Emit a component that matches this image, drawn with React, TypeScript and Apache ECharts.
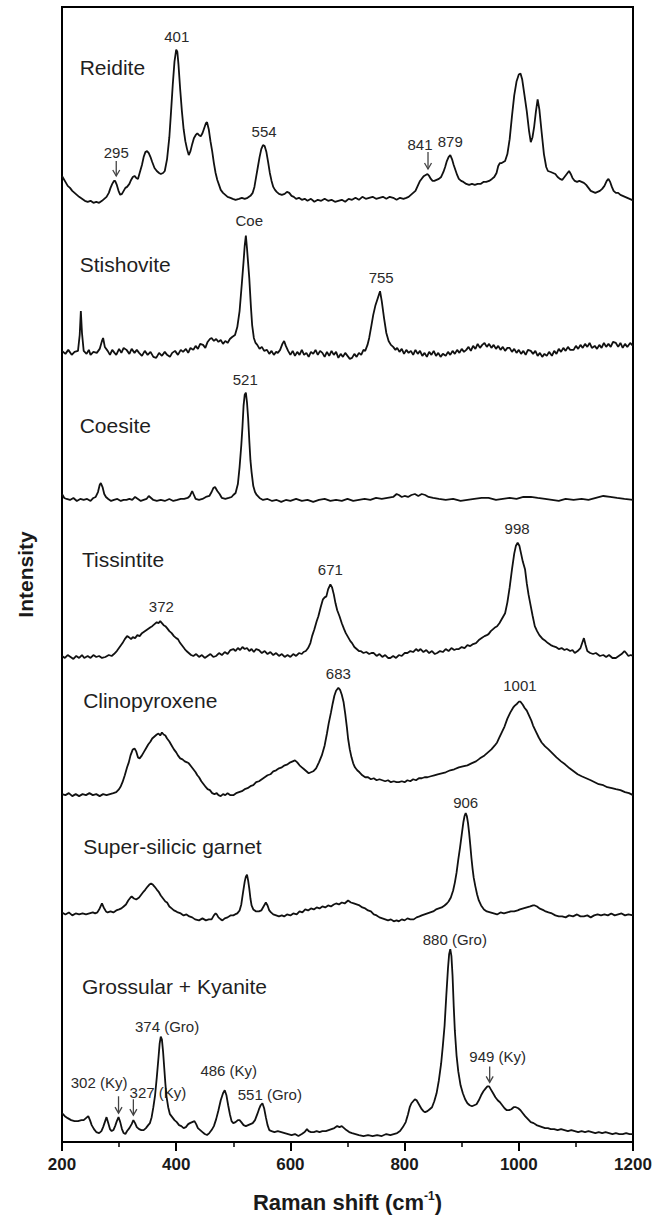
import React, { useEffect, useRef } from "react";
import * as echarts from "echarts";

type Pt = [number, number];

// Raman shift (cm-1) vs. relative intensity above each spectrum's own baseline
const REIDITE: Pt[] = [[200,23],[203,20],[206,17],[210,13],[214,11],[218,8],[222,6],[226,4],[230,2],[235,0],[240,-2],[245,-3],[250,-2],[255,-4],[260,-3],[265,-4],[270,-2],[274,0],[278,2],[282,6],[285,11],[288,15],[291,18],[293,18],[296,14],[299,8],[302,4],[305,5],[308,8],[311,11],[314,12],[318,15],[321,19],[324,22],[327,23],[330,21],[333,20],[336,26],[340,34],[343,42],[346,47],[349,48],[352,46],[355,42],[358,37],[362,31],[366,28],[370,26],[373,25],[377,26],[380,28],[384,40],[388,62],[391,88],[394,115],[397,138],[400,150],[402,148],[404,135],[407,110],[410,88],[413,70],[416,58],[419,50],[422,44],[425,48],[428,55],[431,61],[434,64],[437,66],[440,64],[443,63],[446,66],[449,71],[452,76],[454,77],[457,70],[460,58],[463,48],[466,36],[469,26],[472,19],[475,14],[478,9],[482,6],[486,4],[490,2],[495,1],[499,0],[504,-1],[510,0],[515,1],[520,0],[525,1],[530,3],[534,6],[537,12],[540,22],[543,32],[546,42],[549,50],[552,54],[555,53],[558,47],[561,37],[564,26],[567,18],[570,12],[573,9],[576,7],[580,5],[585,4],[590,5],[594,7],[598,6],[602,3],[606,2],[610,0],[615,1],[620,-1],[625,0],[630,-2],[636,0],[642,-3],[648,-1],[654,-2],[660,0],[666,-2],[672,-1],[678,-3],[684,-2],[690,-1],[696,-3],[702,0],[708,-1],[714,1],[720,-1],[726,2],[732,0],[738,1],[744,2],[750,0],[756,1],[762,2],[768,0],[774,2],[780,1],[786,-1],[792,1],[798,0],[803,1],[807,2],[811,4],[815,6],[819,8],[823,13],[827,18],[831,21],[834,23],[837,24],[840,25],[843,23],[846,20],[849,18],[852,18],[856,19],[860,20],[864,22],[868,27],[871,32],[874,38],[877,42],[880,44],[883,40],[886,34],[889,29],[892,24],[895,20],[899,18],[903,17],[908,15],[913,14],[918,15],[923,14],[928,15],[933,15],[938,17],[943,17],[948,18],[953,20],[957,22],[961,26],[964,33],[967,36],[970,36],[973,37],[976,38],[980,45],[984,60],[988,83],[992,104],[996,118],[1000,125],[1003,126],[1006,120],[1010,104],[1014,88],[1018,68],[1021,57],[1024,62],[1027,73],[1030,88],[1033,100],[1036,90],[1040,67],[1044,45],[1048,32],[1051,28],[1056,27],[1060,26],[1064,25],[1068,22],[1072,20],[1076,19],[1080,22],[1084,25],[1088,28],[1091,25],[1094,21],[1098,18],[1102,17],[1106,18],[1110,17],[1114,16],[1118,14],[1122,11],[1126,8],[1130,7],[1134,6],[1138,7],[1142,8],[1146,10],[1150,13],[1154,18],[1157,20],[1160,17],[1163,12],[1166,8],[1170,6],[1174,6],[1178,4],[1182,3],[1186,2],[1190,1],[1194,0],[1198,-1],[1200,-2]];

const STISHOVITE: Pt[] = [[200,2],[206,-1],[211,3],[217,-2],[222,1],[228,2],[231,18],[233,42],[235,20],[238,2],[243,-1],[247,3],[250,-2],[255,1],[261,0],[266,4],[270,12],[272,15],[275,6],[280,2],[284,-2],[288,3],[292,0],[295,-2],[300,4],[304,0],[308,5],[313,3],[318,-1],[322,4],[327,0],[331,3],[335,0],[340,-3],[345,2],[350,-2],[355,1],[360,-4],[365,-5],[370,0],[375,-3],[380,1],[384,-2],[389,-4],[393,0],[398,2],[403,-2],[408,3],[412,1],[417,4],[421,0],[425,5],[430,3],[434,7],[438,4],[442,9],[447,8],[451,5],[455,11],[459,14],[462,15],[466,12],[470,14],[474,11],[478,13],[482,9],[486,12],[490,10],[494,14],[498,16],[503,18],[507,26],[511,42],[515,70],[518,92],[520,108],[522,118],[524,105],[526,90],[528,75],[531,45],[533,28],[536,15],[539,10],[542,8],[546,4],[550,6],[554,2],[559,3],[563,-1],[567,2],[571,-2],[575,1],[578,0],[582,3],[586,9],[589,12],[592,7],[596,2],[600,-2],[604,2],[608,-3],[612,1],[616,-2],[620,3],[624,-2],[628,0],[632,-4],[636,1],[640,-1],[644,3],[648,-2],[652,2],[656,0],[660,-4],[664,1],[668,-3],[672,2],[676,-2],[680,1],[684,-5],[688,-1],[692,-4],[696,0],[700,-3],[704,-6],[708,-5],[712,-1],[716,-4],[720,0],[724,-2],[728,3],[731,2],[735,8],[738,15],[742,28],[745,38],[749,48],[753,55],[757,62],[760,52],[764,35],[768,20],[772,12],[776,8],[780,6],[784,3],[787,5],[791,1],[795,4],[799,-1],[803,3],[807,0],[811,2],[815,-2],[819,3],[823,-1],[827,2],[831,-3],[835,0],[839,-4],[843,1],[847,-2],[851,2],[855,-3],[859,0],[863,-4],[867,-1],[872,-3],[876,1],[880,-2],[884,2],[888,-1],[892,3],[896,0],[900,4],[904,1],[908,3],[912,6],[916,2],[920,7],[924,4],[928,9],[932,5],[936,8],[940,10],[944,6],[948,9],[952,5],[956,8],[960,4],[964,7],[968,3],[972,6],[976,2],[980,5],[984,5],[988,1],[992,4],[996,0],[1000,3],[1004,-1],[1008,2],[1012,-2],[1016,3],[1021,2],[1025,-1],[1029,2],[1033,-3],[1037,0],[1041,-4],[1045,-1],[1049,-3],[1053,1],[1058,-3],[1062,2],[1066,-1],[1070,4],[1074,1],[1078,5],[1082,2],[1086,6],[1090,3],[1096,3],[1100,7],[1104,4],[1108,8],[1112,5],[1116,9],[1120,6],[1124,10],[1128,5],[1133,7],[1137,4],[1141,8],[1145,5],[1149,10],[1153,6],[1157,9],[1161,6],[1165,11],[1170,10],[1174,6],[1178,10],[1182,5],[1186,9],[1190,6],[1195,10],[1200,7]];

const COESITE: Pt[] = [[200,6],[204,2],[208,1],[214,0],[220,2],[226,-1],[232,1],[238,0],[244,1],[250,-1],[255,2],[259,3],[263,8],[266,15],[268,17],[271,13],[274,6],[277,3],[281,1],[286,-1],[291,0],[297,1],[303,-1],[308,0],[313,0],[318,1],[323,0],[328,3],[333,1],[338,-1],[343,0],[348,1],[352,4],[356,2],[360,0],[366,-1],[373,0],[380,-1],[388,1],[395,-1],[402,0],[408,1],[414,1],[420,2],[424,4],[428,9],[431,5],[434,1],[440,0],[446,1],[452,3],[458,4],[462,8],[465,12],[468,13],[472,9],[476,6],[480,2],[486,1],[492,2],[497,3],[500,5],[504,7],[508,16],[511,33],[514,55],[516,73],[518,95],[520,106],[522,108],[524,98],[526,82],[528,60],[530,40],[532,28],[535,14],[538,8],[541,5],[546,2],[552,0],[560,1],[568,-1],[576,0],[584,-2],[592,0],[600,-1],[610,1],[620,-1],[630,0],[640,-2],[650,0],[660,1],[670,-1],[680,0],[690,-1],[700,1],[710,-1],[720,0],[730,1],[740,0],[750,2],[760,1],[770,2],[780,3],[786,6],[790,5],[795,3],[800,4],[806,3],[812,5],[818,6],[824,4],[830,6],[836,5],[842,3],[850,2],[860,1],[872,0],[885,1],[898,-1],[910,0],[922,1],[935,2],[947,2],[960,0],[972,1],[984,2],[996,1],[1008,3],[1021,3],[1033,2],[1046,1],[1058,0],[1070,-1],[1082,1],[1096,0],[1110,1],[1122,0],[1135,2],[1148,4],[1160,3],[1172,2],[1185,1],[1200,0]];

const TISSINTITE: Pt[] = [[200,1],[205,-1],[210,2],[215,0],[220,-2],[225,1],[230,-1],[235,2],[239,-1],[245,1],[250,-1],[255,2],[260,0],[265,1],[270,-1],[276,0],[282,2],[287,1],[291,3],[296,6],[301,10],[306,14],[310,18],[314,21],[317,20],[321,18],[324,20],[328,19],[332,22],[336,21],[340,24],[345,26],[350,28],[355,30],[358,31],[362,33],[366,35],[369,34],[372,36],[375,34],[378,32],[381,31],[384,29],[388,26],[392,24],[396,21],[400,19],[403,18],[407,14],[411,11],[415,8],[418,6],[422,4],[426,2],[430,1],[435,3],[440,0],[445,2],[450,-1],[455,1],[460,3],[465,0],[470,1],[475,4],[480,2],[485,5],[490,3],[495,7],[500,8],[504,6],[508,9],[512,7],[516,10],[520,8],[524,9],[528,6],[532,8],[536,5],[540,8],[545,7],[550,4],[555,6],[560,3],[565,5],[570,2],[575,4],[580,1],[585,3],[590,0],[595,2],[600,0],[605,3],[610,1],[615,4],[620,3],[623,5],[627,6],[631,9],[635,14],[638,21],[642,28],[646,36],[649,41],[653,50],[657,58],[660,60],[663,61],[666,68],[670,73],[673,70],[676,63],[679,54],[682,47],[686,41],[690,34],[694,28],[697,24],[701,20],[705,16],[708,14],[712,10],[716,8],[720,6],[723,6],[728,4],[733,5],[738,3],[742,4],[746,4],[751,1],[756,3],[761,0],[766,2],[771,-1],[775,-1],[780,1],[785,-1],[790,2],[795,1],[800,4],[805,4],[810,6],[815,5],[820,8],[824,6],[828,8],[833,5],[838,7],[843,4],[848,6],[853,3],[857,4],[862,6],[867,5],[872,8],[877,6],[882,9],[887,7],[891,8],[895,8],[900,10],[905,9],[910,12],[915,11],[920,13],[925,14],[930,17],[935,19],[940,21],[944,22],[947,23],[951,26],[955,28],[959,30],[962,31],[966,34],[970,38],[973,41],[976,44],[980,55],[984,70],[988,88],[992,104],[995,112],[998,115],[1001,112],[1004,104],[1007,96],[1011,88],[1014,74],[1017,63],[1020,54],[1024,42],[1028,31],[1032,26],[1036,22],[1042,18],[1047,16],[1051,14],[1056,12],[1060,11],[1065,10],[1070,8],[1075,9],[1080,7],[1084,8],[1090,6],[1094,7],[1098,4],[1103,6],[1108,9],[1111,14],[1114,19],[1117,12],[1120,6],[1125,4],[1130,3],[1135,4],[1142,1],[1148,2],[1153,0],[1158,2],[1164,-1],[1170,-1],[1175,1],[1180,3],[1185,6],[1188,4],[1192,1],[1196,2],[1200,1]];

const CLINOPYROXENE: Pt[] = [[200,1],[206,0],[212,2],[218,-1],[224,1],[230,-1],[236,1],[242,0],[248,2],[254,0],[260,1],[266,-1],[272,1],[278,0],[284,1],[290,2],[295,3],[300,6],[303,9],[306,13],[310,20],[314,28],[317,33],[320,40],[324,46],[327,47],[330,44],[333,38],[336,37],[340,40],[344,44],[347,47],[351,51],[355,54],[358,57],[362,59],[366,61],[369,62],[372,60],[375,63],[378,61],[381,60],[384,57],[388,54],[392,50],[396,46],[400,43],[403,40],[407,37],[411,36],[415,34],[419,33],[422,32],[426,29],[430,26],[434,23],[437,20],[440,18],[444,14],[448,11],[452,8],[455,6],[459,5],[463,2],[467,1],[471,2],[474,0],[478,-1],[482,1],[486,0],[490,2],[495,0],[500,0],[505,2],[510,3],[515,4],[520,6],[525,7],[530,9],[535,10],[540,13],[545,14],[550,16],[555,18],[560,20],[565,21],[570,24],[575,25],[580,27],[585,28],[590,30],[595,31],[600,33],[604,34],[608,35],[612,33],[616,30],[620,28],[624,26],[628,24],[632,22],[636,23],[640,24],[645,27],[650,33],[655,40],[660,50],[664,62],[667,72],[671,83],[674,92],[677,100],[680,105],[684,108],[687,106],[690,101],[693,94],[696,82],[699,68],[701,57],[704,46],[707,38],[710,32],[713,28],[717,25],[721,23],[726,20],[731,18],[736,18],[741,16],[746,17],[751,15],[756,16],[761,15],[766,14],[771,15],[776,13],[781,14],[786,13],[790,13],[795,14],[800,13],[805,15],[810,14],[815,16],[820,15],[825,17],[830,17],[835,18],[840,18],[846,19],[852,20],[858,21],[865,22],[872,23],[880,25],[887,26],[895,28],[902,29],[910,30],[917,32],[925,34],[932,37],[940,40],[946,43],[952,46],[958,50],[962,53],[966,58],[970,63],[975,69],[980,77],[985,83],[990,88],[993,90],[997,92],[1000,94],[1003,94],[1007,91],[1010,88],[1014,85],[1018,80],[1022,75],[1025,70],[1030,64],[1035,58],[1040,53],[1046,49],[1052,46],[1059,42],[1066,38],[1074,34],[1081,31],[1089,27],[1096,24],[1103,21],[1110,19],[1118,17],[1126,15],[1133,13],[1140,11],[1148,10],[1155,8],[1163,7],[1170,6],[1178,5],[1186,3],[1193,2],[1200,0]];

const SUPER_SILICIC: Pt[] = [[200,2],[206,0],[212,2],[218,-1],[224,1],[230,0],[236,1],[242,0],[248,1],[254,2],[258,1],[262,2],[266,6],[270,11],[273,7],[277,3],[280,2],[285,3],[290,2],[295,4],[300,5],[304,6],[308,8],[312,10],[316,14],[320,17],[322,18],[326,16],[330,15],[335,17],[339,20],[343,23],[346,25],[350,28],[353,30],[356,31],[359,30],[362,28],[366,25],[369,23],[373,19],[377,16],[381,13],[384,12],[388,8],[392,6],[396,4],[400,3],[403,2],[408,1],[413,-1],[418,0],[423,-2],[428,-3],[433,-5],[440,-6],[446,-4],[452,-6],[457,-5],[462,-5],[466,-1],[469,1],[471,0],[474,-3],[478,-5],[481,-6],[485,-4],[490,-3],[495,-1],[500,-1],[503,0],[507,1],[511,4],[514,10],[517,22],[520,33],[522,38],[524,40],[526,34],[528,26],[530,16],[532,9],[535,5],[540,3],[545,3],[549,4],[553,8],[557,12],[560,9],[563,4],[566,2],[570,0],[575,-1],[580,-2],[585,-1],[589,-2],[594,0],[600,-1],[605,1],[611,0],[616,3],[621,2],[626,5],[631,4],[636,6],[641,5],[646,7],[651,6],[656,8],[661,7],[666,9],[671,8],[676,10],[680,11],[685,10],[690,12],[695,11],[701,14],[706,12],[711,11],[716,10],[721,9],[726,7],[731,6],[736,4],[741,3],[746,0],[751,-1],[756,-3],[761,-4],[766,-5],[771,-6],[776,-5],[781,-7],[786,-6],[790,-7],[795,-5],[800,-6],[805,-4],[810,-5],[816,-5],[821,-3],[826,-2],[830,-1],[835,0],[840,1],[845,2],[850,3],[855,5],[860,6],[865,7],[870,9],[874,11],[877,13],[881,17],[885,24],[888,32],[891,42],[894,55],[897,67],[900,80],[903,93],[905,99],[907,102],[909,99],[911,92],[913,82],[915,70],[917,57],[919,46],[921,37],[924,28],[927,20],[930,14],[934,9],[939,5],[944,3],[950,2],[956,1],[962,0],[968,2],[974,1],[980,2],[986,3],[992,3],[998,4],[1002,5],[1008,6],[1014,7],[1020,8],[1025,9],[1028,9],[1032,8],[1036,6],[1040,5],[1044,4],[1047,3],[1052,2],[1058,1],[1064,-1],[1070,-2],[1076,-2],[1082,-3],[1088,-1],[1095,-2],[1102,0],[1108,-2],[1114,-2],[1120,-1],[1126,-3],[1132,-1],[1138,0],[1144,-1],[1150,0],[1156,-1],[1162,1],[1168,-1],[1174,0],[1180,1],[1186,-1],[1192,0],[1200,-1]];

const GROSSULAR_KYANITE: Pt[] = [[200,22],[205,19],[210,17],[216,15],[222,14],[228,14],[234,15],[238,15],[242,17],[246,19],[249,15],[252,10],[256,6],[260,3],[265,2],[269,4],[272,8],[275,13],[278,18],[281,12],[284,6],[287,4],[290,5],[293,9],[296,14],[299,18],[302,13],[305,6],[308,2],[311,1],[314,4],[318,7],[322,11],[325,15],[328,12],[331,8],[335,6],[339,5],[343,5],[347,7],[351,10],[354,12],[357,18],[360,28],[363,40],[366,58],[369,78],[371,92],[373,99],[375,96],[377,84],[379,68],[381,52],[383,39],[386,28],[389,21],[393,18],[397,15],[401,13],[405,10],[409,9],[413,7],[417,8],[421,11],[424,12],[428,13],[432,14],[435,11],[438,7],[442,5],[446,3],[450,1],[454,0],[458,2],[462,5],[466,9],[470,16],[474,25],[478,35],[482,42],[485,45],[488,40],[491,30],[494,21],[497,14],[500,12],[504,13],[508,15],[511,15],[514,13],[518,10],[522,9],[526,10],[530,11],[534,12],[538,15],[542,21],[545,26],[548,30],[551,32],[554,27],[557,18],[560,10],[563,5],[567,4],[572,3],[578,4],[584,3],[590,2],[596,1],[602,0],[608,1],[614,-1],[620,1],[625,3],[629,6],[632,4],[636,3],[641,3],[646,4],[651,3],[656,4],[662,4],[667,5],[672,6],[677,7],[682,9],[686,8],[690,9],[694,7],[698,5],[703,3],[708,2],[714,1],[720,0],[728,-1],[736,0],[744,-1],[752,0],[760,-1],[768,1],[775,0],[781,1],[787,2],[792,4],[797,8],[802,13],[806,21],[809,28],[812,32],[815,34],[818,36],[821,35],[824,32],[827,29],[830,26],[833,24],[836,23],[840,24],[844,26],[848,28],[852,34],[856,42],[860,55],[864,72],[867,90],[870,110],[873,140],[876,168],[878,182],[880,187],[882,180],[884,160],[886,130],[888,105],[891,80],[894,64],[898,50],[902,42],[906,36],[910,32],[914,30],[918,29],[922,30],[926,31],[930,35],[934,40],[938,44],[942,47],[945,49],[948,49],[951,46],[955,42],[959,38],[963,35],[967,33],[971,30],[975,27],[979,25],[983,25],[987,26],[991,28],[995,28],[999,27],[1003,25],[1007,22],[1011,19],[1016,16],[1021,13],[1026,12],[1031,10],[1036,9],[1041,8],[1046,7],[1051,7],[1056,6],[1062,6],[1068,5],[1074,6],[1080,5],[1086,4],[1092,5],[1098,4],[1104,3],[1110,4],[1116,3],[1122,4],[1128,3],[1134,2],[1140,3],[1146,2],[1152,3],[1158,2],[1164,1],[1170,2],[1176,1],[1182,1],[1188,2],[1194,1],[1200,1]];

const SPECTRA: Pt[][] = [REIDITE, STISHOVITE, COESITE, TISSINTITE, CLINOPYROXENE, SUPER_SILICIC, GROSSULAR_KYANITE];
const SPECTRUM_NAMES = ["Reidite", "Stishovite", "Coesite", "Tissintite", "Clinopyroxene", "Super-silicic garnet", "Grossular + Kyanite"];
// vertical stacking offset of each spectrum's baseline
const OFFSETS = [949, 794, 646, 488, 349, 229, 7];
// where each spectrum name sits: [Raman shift, stacked intensity]
const NAME_ANCHORS: Pt[] = [[231, 1081], [231, 883], [231, 721], [235, 586], [237, 444], [237, 297], [235, 156]];

const PEAK_TEXTS = ["401", "295", "554", "841", "879", "Coe", "755", "521", "998", "671", "372", "683", "1001", "906", "880 (Gro)", "374 (Gro)", "486 (Ky)", "551 (Gro)", "302 (Ky)", "327 (Ky)", "949 (Ky)"];
const PEAK_X = [401, 295, 554, 827, 880, 528, 759, 521, 997, 670, 374, 684, 1002, 907, 888, 384, 492, 564, 265, 368, 963];
const PEAK_V = [1112, 996, 1017, 1004, 1007, 927, 870, 767, 617, 576, 539, 471, 459, 342, 204, 116, 72, 48, 60, 50, 86];

// arrows: [Raman shift, top, tip]
const ARROWS: [number, number, number][] = [[295, 987, 972], [841, 996, 979], [299, 46, 29], [325, 43, 27], [949, 76, 60]];

const X_MIN = 200;
const X_MAX = 1200;
const X_STEP = 200;

const FONT = "'Liberation Sans', Arial, Helvetica, sans-serif";

export default function App() {
  const ref = useRef<HTMLDivElement>(null);
  useEffect(() => {
    if (!ref.current) return;
    const chart = echarts.init(ref.current, undefined, { renderer: "svg" });
    const option: any = {
      animation: false,
      backgroundColor: "#fff",
      grid: { left: 62, right: 34, top: 7, bottom: 69, show: true, borderColor: "#000", borderWidth: 2, containLabel: false },
      xAxis: {
        type: "value",
        min: X_MIN,
        max: X_MAX,
        interval: X_STEP,
        axisLine: { show: true, lineStyle: { color: "#000", width: 2 } },
        axisTick: { show: true, inside: false, length: 9, lineStyle: { color: "#000", width: 2 } },
        minorTick: { show: true, splitNumber: 2, length: 5, lineStyle: { color: "#000", width: 1.5 } },
        splitLine: { show: false },
        axisLabel: { color: "#1a1a1a", fontSize: 17, fontWeight: "bold", fontFamily: FONT, margin: 14, formatter: (v: number) => String(v) },
        name: "{a|Raman shift (cm}{s|-1}{a|)}",
        nameLocation: "middle",
        nameGap: 48,
        nameTextStyle: {
          rich: {
            a: { fontSize: 22, fontWeight: "bold", fontFamily: FONT, color: "#1a1a1a" },
            s: { fontSize: 12, fontWeight: "bold", fontFamily: FONT, color: "#1a1a1a", padding: [0, 0, 12, 0] },
          },
        },
      },
      yAxis: {
        type: "value",
        min: 0,
        max: 1142,
        axisLine: { show: true, lineStyle: { color: "#000", width: 2 } },
        axisTick: { show: false },
        axisLabel: { show: false },
        splitLine: { show: false },
        name: "Intensity",
        nameLocation: "middle",
        nameRotate: 90,
        nameGap: 26,
        nameTextStyle: { fontSize: 21, fontWeight: "bold", fontFamily: FONT, color: "#1a1a1a" },
      },
      series: SPECTRA.map((d, i) => ({
        type: "line",
        name: SPECTRUM_NAMES[i],
        data: d.map(([x, y]) => [x, y + OFFSETS[i]]),
        showSymbol: false,
        symbol: "none",
        silent: true,
        lineStyle: { color: "#111", width: 1.8 },
      })),
    };
    chart.setOption(option);

    const px = (x: number, v: number) => chart.convertToPixel({ gridIndex: 0 }, [x, v]) as number[];
    const graphics: any[] = [];
    SPECTRUM_NAMES.forEach((n, i) => {
      const [gx, gy] = px(NAME_ANCHORS[i][0], NAME_ANCHORS[i][1]);
      graphics.push({
        type: "text",
        x: gx,
        y: gy,
        style: { text: n, font: `21px ${FONT}`, fill: "#1f1f1f", align: "left", verticalAlign: "middle" },
        silent: true,
      });
    });
    PEAK_TEXTS.forEach((t, i) => {
      const [gx, gy] = px(PEAK_X[i], PEAK_V[i]);
      graphics.push({
        type: "text",
        x: gx,
        y: gy,
        style: { text: t, font: `15px ${FONT}`, fill: "#2a2a2a", align: "center", verticalAlign: "middle" },
        silent: true,
      });
    });
    ARROWS.forEach(([x, v1, v2]) => {
      const [ax, ay1] = px(x, v1);
      const [, ay2] = px(x, v2);
      graphics.push({
        type: "line",
        shape: { x1: ax, y1: ay1, x2: ax, y2: ay2 },
        style: { stroke: "#444", lineWidth: 1.3 },
        silent: true,
      });
      graphics.push({
        type: "polyline",
        shape: { points: [[ax - 3.5, ay2 - 6], [ax, ay2], [ax + 3.5, ay2 - 6]] },
        style: { stroke: "#444", lineWidth: 1.3, fill: "none" },
        silent: true,
      });
    });
    chart.setOption({ graphic: graphics });

    return () => chart.dispose();
  }, []);
  return <div ref={ref} style={{ position: "absolute", left: 0, top: 0, width: 667, height: 1218 }} />;
}
